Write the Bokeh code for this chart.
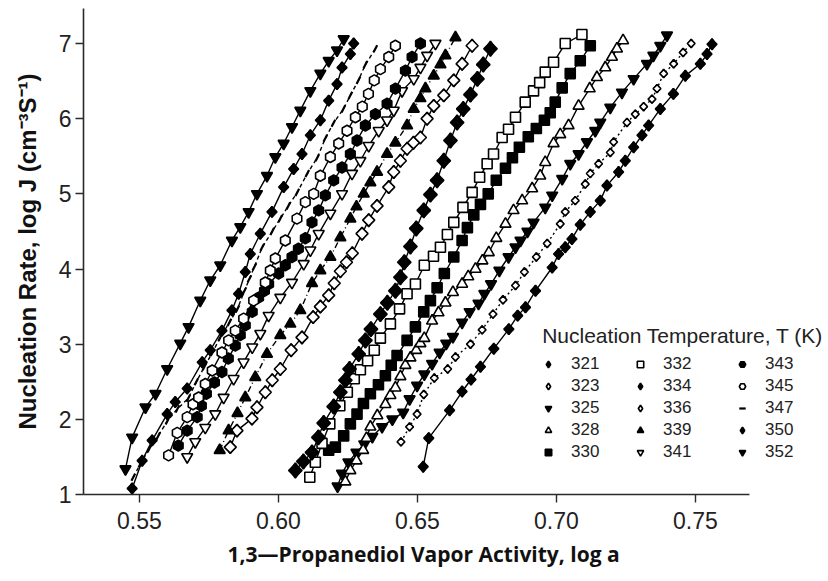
import math
from bokeh.plotting import figure
from bokeh.models import Legend, LegendItem, FixedTicker, Label, Range1d, Title
from bokeh.embed import file_html
from bokeh.resources import INLINE

# ---------------- data (log a, log J) ----------------
x_321 = [0.6521,0.6541,0.6616,0.6661,0.6693,0.6727,0.6775,0.6829,0.6861,0.6889,0.6925,0.6985,0.7008,0.7032,0.7056,0.7086,0.7122,0.7158,0.7182,0.7224,0.7248,0.7278,0.7308,0.7332,0.7374,0.7421,0.7464,0.7518,0.7542,0.7560]
y_321 = [1.37,1.75,2.12,2.37,2.53,2.70,2.94,3.20,3.38,3.49,3.71,4.02,4.20,4.29,4.40,4.59,4.76,4.91,5.11,5.29,5.44,5.62,5.78,5.91,6.13,6.33,6.57,6.73,6.86,6.99]

x_323 = [0.6441,0.6472,0.6499,0.6523,0.6561,0.6609,0.6637,0.6691,0.6733,0.6772,0.6808,0.6853,0.6885,0.6928,0.6967,0.7014,0.7032,0.7068,0.7104,0.7122,0.7152,0.7194,0.7206,0.7254,0.7284,0.7314,0.7344,0.7362,0.7386,0.7422,0.7456,0.7485]
y_323 = [1.70,1.90,2.07,2.33,2.55,2.67,2.83,3.00,3.19,3.40,3.59,3.78,3.96,4.16,4.34,4.60,4.76,4.91,5.13,5.27,5.40,5.55,5.69,5.95,6.06,6.16,6.26,6.40,6.60,6.73,6.88,7.00]

x_325 = [0.6213,0.6229,0.6252,0.6281,0.6309,0.6338,0.6373,0.6410,0.6449,0.6472,0.6499,0.6525,0.6553,0.6580,0.6604,0.6628,0.6661,0.6688,0.6720,0.6741,0.6765,0.6795,0.6828,0.6853,0.6871,0.6896,0.6918,0.6960,0.6985,0.7021,0.7050,0.7080,0.7110,0.7140,0.7158,0.7194,0.7236,0.7278,0.7326,0.7349,0.7374,0.7398]
y_325 = [1.11,1.28,1.43,1.56,1.67,1.77,1.90,2.00,2.09,2.27,2.45,2.60,2.74,2.89,3.01,3.10,3.29,3.43,3.54,3.67,3.80,3.98,4.16,4.29,4.38,4.50,4.62,4.82,4.98,5.20,5.40,5.53,5.69,5.84,5.95,6.15,6.35,6.53,6.73,6.84,6.97,7.11]

x_328 = [0.6241,0.6259,0.6281,0.6305,0.6317,0.6331,0.6356,0.6385,0.6403,0.6421,0.6439,0.6457,0.6475,0.6496,0.6511,0.6525,0.6553,0.6576,0.6601,0.6628,0.6661,0.6683,0.6709,0.6734,0.6757,0.6784,0.6817,0.6846,0.6877,0.6913,0.6942,0.6960,0.6990,0.7014,0.7044,0.7080,0.7120,0.7146,0.7176,0.7200,0.7218,0.7240]
y_328 = [1.17,1.32,1.45,1.59,1.75,1.90,2.05,2.20,2.32,2.42,2.57,2.72,2.82,2.92,3.01,3.08,3.31,3.42,3.55,3.69,3.80,3.90,4.00,4.11,4.22,4.41,4.60,4.78,4.91,5.07,5.24,5.42,5.67,5.79,5.91,6.17,6.40,6.55,6.68,6.82,6.93,7.04]

x_330 = [0.6181,0.6205,0.6235,0.6259,0.6283,0.6306,0.6331,0.6360,0.6385,0.6406,0.6427,0.6463,0.6493,0.6523,0.6547,0.6571,0.6597,0.6631,0.6661,0.6680,0.6703,0.6727,0.6755,0.6784,0.6817,0.6842,0.6867,0.6899,0.6928,0.6957,0.6978,0.6996,0.7021,0.7050,0.7086,0.7122]
y_330 = [1.59,1.63,1.78,1.94,2.07,2.21,2.34,2.46,2.58,2.72,2.85,3.05,3.23,3.43,3.58,3.75,3.94,4.16,4.38,4.55,4.72,4.86,5.00,5.18,5.34,5.48,5.62,5.76,5.87,5.98,6.08,6.22,6.41,6.60,6.77,6.97]

x_332 = [0.6113,0.6133,0.6157,0.6185,0.6221,0.6248,0.6273,0.6295,0.6321,0.6345,0.6367,0.6403,0.6436,0.6463,0.6493,0.6525,0.6558,0.6583,0.6608,0.6631,0.6664,0.6697,0.6724,0.6751,0.6774,0.6805,0.6828,0.6853,0.6888,0.6918,0.6940,0.6960,0.6990,0.7032,0.7092]
y_332 = [1.23,1.43,1.68,1.94,2.18,2.36,2.54,2.66,2.78,2.92,3.08,3.27,3.47,3.67,3.80,4.05,4.17,4.29,4.46,4.62,4.82,5.02,5.22,5.40,5.53,5.75,5.86,6.02,6.22,6.37,6.48,6.62,6.75,7.00,7.12]

x_334 = [0.6061,0.6090,0.6121,0.6144,0.6163,0.6199,0.6223,0.6241,0.6256,0.6289,0.6313,0.6333,0.6367,0.6392,0.6421,0.6439,0.6453,0.6475,0.6496,0.6523,0.6547,0.6571,0.6595,0.6619,0.6643,0.6665,0.6691,0.6716,0.6737,0.6763]
y_334 = [1.32,1.44,1.56,1.76,1.95,2.17,2.36,2.52,2.67,2.87,3.05,3.20,3.40,3.55,3.71,3.89,4.09,4.30,4.54,4.78,4.99,5.18,5.44,5.71,5.95,6.13,6.32,6.53,6.72,6.93]

x_336 = [0.5827,0.5851,0.5905,0.5923,0.5953,0.5978,0.6007,0.6046,0.6085,0.6125,0.6151,0.6181,0.6201,0.6223,0.6245,0.6266,0.6301,0.6325,0.6355,0.6397,0.6415,0.6439,0.6463,0.6486,0.6511,0.6535,0.6559,0.6595,0.6631,0.6661,0.6697]
y_336 = [1.63,1.85,2.01,2.16,2.36,2.52,2.67,2.92,3.09,3.36,3.50,3.65,3.81,3.97,4.09,4.21,4.47,4.65,4.84,5.09,5.29,5.44,5.60,5.68,5.75,6.00,6.17,6.31,6.51,6.73,6.97]

x_339 = [0.5789,0.5821,0.5853,0.5881,0.5917,0.5959,0.6007,0.6043,0.6079,0.6121,0.6151,0.6187,0.6223,0.6259,0.6281,0.6307,0.6331,0.6355,0.6391,0.6421,0.6463,0.6487,0.6511,0.6529,0.6559,0.6583,0.6601,0.6637]
y_339 = [1.59,1.85,2.08,2.29,2.56,2.87,3.12,3.27,3.45,3.81,3.98,4.16,4.42,4.67,4.83,5.00,5.15,5.29,5.53,5.68,5.91,6.13,6.27,6.40,6.57,6.72,6.84,7.08]

x_341 = [0.5672,0.5701,0.5737,0.5773,0.5803,0.5839,0.5875,0.5906,0.5935,0.5965,0.6007,0.6049,0.6091,0.6115,0.6145,0.6187,0.6229,0.6265,0.6295,0.6325,0.6361,0.6391,0.6415,0.6445,0.6487,0.6511,0.6535,0.6565]
y_341 = [1.50,1.70,1.89,2.07,2.29,2.54,2.76,2.96,3.14,3.38,3.62,3.82,4.07,4.25,4.47,4.74,5.00,5.27,5.44,5.64,5.84,5.98,6.11,6.37,6.53,6.68,6.84,7.00]

x_343 = [0.5640,0.5672,0.5708,0.5723,0.5741,0.5770,0.5797,0.5820,0.5845,0.5863,0.5881,0.5906,0.5929,0.5950,0.5965,0.6001,0.6025,0.6049,0.6072,0.6097,0.6121,0.6145,0.6169,0.6199,0.6229,0.6259,0.6283,0.6313,0.6349,0.6391,0.6421,0.6457,0.6481,0.6511]
y_343 = [1.65,1.85,2.03,2.18,2.34,2.49,2.63,2.81,2.98,3.12,3.25,3.43,3.62,3.71,3.80,3.94,4.05,4.16,4.27,4.41,4.62,4.78,4.98,5.18,5.35,5.53,5.71,5.91,6.06,6.20,6.40,6.64,6.82,7.00]

x_345 = [0.5605,0.5636,0.5672,0.5693,0.5713,0.5737,0.5762,0.5797,0.5821,0.5845,0.5875,0.5911,0.5953,0.5971,0.5989,0.6025,0.6067,0.6097,0.6127,0.6151,0.6187,0.6217,0.6247,0.6277,0.6302,0.6324,0.6345,0.6367,0.6397,0.6421]
y_345 = [1.52,1.82,2.03,2.20,2.29,2.47,2.65,2.89,3.05,3.18,3.34,3.58,3.82,3.98,4.14,4.38,4.67,4.89,5.00,5.24,5.49,5.67,5.84,6.02,6.16,6.33,6.51,6.66,6.82,6.97]

x_347 = [0.5478,0.5504,0.5536,0.5568,0.5601,0.5637,0.5676,0.5705,0.5734,0.5763,0.5791,0.5824,0.5853,0.5878,0.5896,0.5914,0.5942,0.5978,0.6007,0.6036,0.6068,0.6104,0.6140,0.6169,0.6198,0.6234,0.6259,0.6288,0.6313,0.6349]
y_347 = [1.23,1.41,1.61,1.78,1.98,2.14,2.28,2.50,2.70,2.89,3.09,3.29,3.47,3.71,3.87,4.03,4.29,4.50,4.67,4.84,5.02,5.27,5.48,5.74,5.94,6.13,6.31,6.51,6.72,6.93]

x_350 = [0.5474,0.5510,0.5546,0.5600,0.5629,0.5672,0.5726,0.5755,0.5797,0.5833,0.5857,0.5881,0.5899,0.5935,0.5977,0.6019,0.6055,0.6085,0.6115,0.6151,0.6181,0.6211,0.6229,0.6259,0.6271]
y_350 = [1.08,1.45,1.72,2.07,2.23,2.41,2.76,2.92,3.18,3.45,3.67,3.96,4.20,4.47,4.76,5.09,5.33,5.53,5.78,5.98,6.24,6.46,6.68,6.86,7.00]

x_352 = [0.5450,0.5474,0.5522,0.5558,0.5600,0.5647,0.5677,0.5719,0.5755,0.5791,0.5833,0.5863,0.5893,0.5923,0.5959,0.5989,0.6019,0.6049,0.6079,0.6115,0.6151,0.6181,0.6211,0.6235]
y_352 = [1.34,1.76,2.16,2.34,2.67,3.01,3.23,3.58,3.85,4.05,4.38,4.56,4.76,5.00,5.24,5.49,5.67,5.89,6.11,6.37,6.60,6.77,6.91,7.06]

temps = ["321", "323", "325", "328", "330", "332", "334", "336",
         "339", "341", "343", "345", "347", "350", "352"]
xs = [x_321, x_323, x_325, x_328, x_330, x_332, x_334, x_336,
      x_339, x_341, x_343, x_345, x_347, x_350, x_352]
ys = [y_321, y_323, y_325, y_328, y_330, y_332, y_334, y_336,
      y_339, y_341, y_343, y_345, y_347, y_350, y_352]

x_ticks = [0.55, 0.60, 0.65, 0.70, 0.75]
y_ticks = [1, 2, 3, 4, 5, 6, 7]

Q = math.pi / 4
# marker, size, filled, line_dash, marker angle
styles = {
    "321": ("square", 7, True, "solid", Q),
    "323": ("square", 5.5, False, "2 3", Q),
    "325": ("inverted_triangle", 11, True, "solid", 0.0),
    "328": ("triangle", 11, False, "solid", 0.0),
    "330": ("square", 10, True, "solid", 0.0),
    "332": ("square", 10, False, "solid", 0.0),
    "334": ("square", 9.5, True, "solid", Q),
    "336": ("square", 8.5, False, "solid", Q),
    "339": ("triangle", 11, True, "6 3 1 3", 0.0),
    "341": ("inverted_triangle", 11, False, "solid", 0.0),
    "343": ("hex", 11, True, "solid", math.pi / 6),
    "345": ("hex", 11, False, "solid", math.pi / 6),
    "347": ("dash", 8, False, "4 3", 1.1),
    "350": ("square", 7, True, "solid", Q),
    "352": ("inverted_triangle", 11, True, "solid", 0.0),
}
# legend swatches (drawn beneath the rotated squares, which hide them)
legend_swatch = {
    "321": ("diamond", 11, True),
    "323": ("diamond", 8.5, False),
    "334": ("diamond", 15, True),
    "336": ("diamond", 13, False),
    "350": ("diamond", 11, True),
}

X0, X1 = 0.5299, 0.7694   # extent of the drawn x axis

p = figure(width=828, height=573, output_backend="svg", toolbar_location=None,
           x_range=Range1d(X0, 0.7979), y_range=Range1d(1.0, 7.466),
           min_border_left=83, min_border_right=0, min_border_top=8,
           min_border_bottom=10)
p.outline_line_color = None
p.xgrid.visible = False
p.ygrid.visible = False
p.background_fill_color = "white"

renderers = {}
for t, xv, yv in zip(temps, xs, ys):
    mk, sz, filled, dash, ang = styles[t]
    p.line(xv, yv, line_color="black", line_width=1.4, line_dash=dash)
    sw = None
    if t in legend_swatch:
        lm, ls, lf = legend_swatch[t]
        sw = p.scatter(xv, yv, marker=lm, size=ls,
                       fill_color="black" if lf else "white",
                       line_color="black", line_width=1.7)
    sc = p.scatter(xv, yv, marker=mk, size=sz, angle=ang,
                   fill_color="black" if filled else "white",
                   line_color="black", line_width=2.2 if mk == "dash" else 1.6)
    renderers[t] = sw if sw is not None else sc

# axes
for ax in (p.xaxis[0], p.yaxis[0]):
    ax.axis_line_color = "#2a2a2a"
    ax.axis_line_width = 1.6
    ax.major_tick_line_color = "#2a2a2a"
    ax.major_tick_line_width = 1.4
    ax.major_tick_in = 0
    ax.major_tick_out = 8
    ax.minor_tick_line_color = None
    ax.major_label_text_font = "Liberation Sans"
    ax.major_label_text_font_size = "23px"
    ax.major_label_text_color = "#222222"

p.xaxis.bounds = (X0, X1)
p.xaxis.ticker = FixedTicker(ticks=x_ticks)
p.xaxis.major_label_overrides = {v: f"{v:.2f}" for v in x_ticks}
p.yaxis.ticker = FixedTicker(ticks=y_ticks)
p.xaxis.major_label_standoff = 9
p.yaxis.major_label_standoff = 4

# x-axis title, placed under the drawn part of the axis
xtitle = Title(text="1,3\u2014Propanediol Vapor Activity, log a", align="left",
               offset=144, text_font="Open Sans", text_font_style="bold",
               text_font_size="21px", text_color="#111111", standoff=12)
p.add_layout(xtitle, "below")

p.yaxis.axis_label = "Nucleation Rate, log J (cm\u207b\u00b3S\u207b\u00b9)"
p.yaxis.axis_label_text_font = "Liberation Sans"
p.yaxis.axis_label_text_font_style = "bold"
p.yaxis.axis_label_text_font_size = "24px"
p.yaxis.axis_label_text_color = "#111111"
p.yaxis.axis_label_standoff = 15

# legend: three columns of five entries
col_x = [457, 549, 651]
for c in range(3):
    items = [LegendItem(label=t, renderers=[renderers[t]]) for t in temps[c*5:(c+1)*5]]
    leg = Legend(items=items, location=(col_x[c], 32), orientation="vertical",
                 padding=0, spacing=2, glyph_width=16, glyph_height=16,
                 label_height=16, label_standoff=15, margin=0,
                 label_text_font="Liberation Sans", label_text_font_size="17px",
                 label_text_color="#222222", background_fill_alpha=0,
                 border_line_color=None)
    p.add_layout(leg)

title = Label(x=0.6949, y=3.115, text="Nucleation Temperature, T (K)",
              text_font="Liberation Sans", text_font_size="21px",
              text_baseline="middle", text_align="left", text_color="#222222")
p.add_layout(title)

open("out.html", "w").write(file_html(p, INLINE))
